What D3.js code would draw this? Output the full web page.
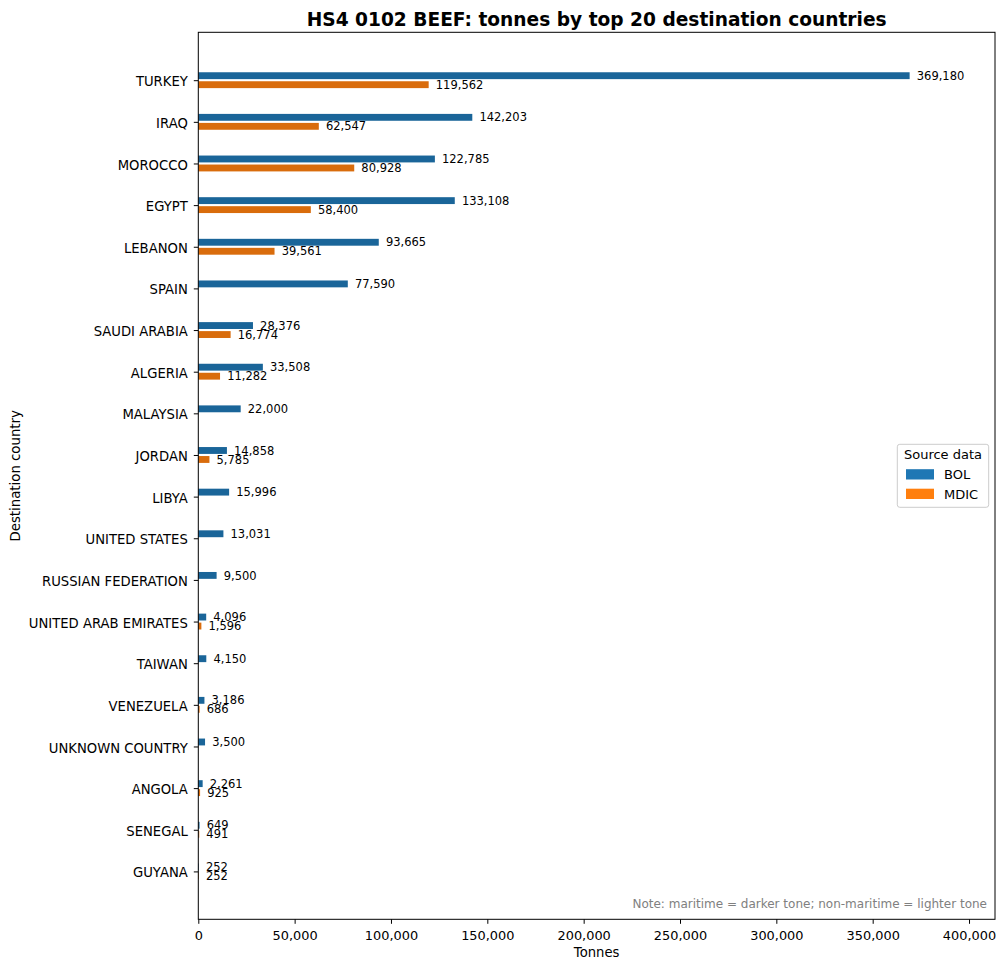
<!DOCTYPE html>
<html>
<head>
<meta charset="utf-8">
<script src="https://cdn.jsdelivr.net/npm/d3@7"></script>
<style>
  html, body { margin: 0; padding: 0; background: #fff; }
  svg { display: block; font-family: "DejaVu Sans", sans-serif; }
</style>
</head>
<body>
<svg id="chart" width="1006" height="969"></svg>
<script>
const countries = ["TURKEY","IRAQ","MOROCCO","EGYPT","LEBANON","SPAIN","SAUDI ARABIA","ALGERIA","MALAYSIA","JORDAN","LIBYA","UNITED STATES","RUSSIAN FEDERATION","UNITED ARAB EMIRATES","TAIWAN","VENEZUELA","UNKNOWN COUNTRY","ANGOLA","SENEGAL","GUYANA"];
const bolValues = [369180,142203,122785,133108,93665,77590,28376,33508,22000,14858,15996,13031,9500,4096,4150,3186,3500,2261,649,252];
const mdicValues = [119562,62547,80928,58400,39561,null,16774,11282,null,5785,null,null,null,1596,null,686,null,925,491,252];
const xTicks = [0,50000,100000,150000,200000,250000,300000,350000,400000];
const seriesNames = ["BOL","MDIC"];
const barColors = ["#1a6599","#d96c0c"];
const legendColors = ["#1f77b4","#ff7f0e"];

const svg = d3.select("#chart");
const plot = {left: 198.3, right: 995, top: 32.3, bottom: 919.3};

const maxVal = d3.max(bolValues.concat(mdicValues.filter(v => v != null)));
const x = d3.scaleLinear().domain([0, maxVal * 1.12]).range([plot.left, plot.right]);
const y = d3.scaleLinear().domain([-1.15, countries.length - 1 + 1.15]).range([plot.top, plot.bottom]);

const barH = 0.165, off = 0.108;
const fmt = d3.format(",");

const series = [bolValues, mdicValues];
series.forEach((vals, s) => {
  const sign = s === 0 ? -1 : 1;
  const data = vals.map((v, i) => ({v, i})).filter(d => d.v != null);
  svg.append("g").selectAll("rect").data(data).join("rect")
    .attr("x", x(0))
    .attr("y", d => y(d.i + sign * off - barH / 2))
    .attr("width", d => x(d.v) - x(0))
    .attr("height", d => y(barH) - y(0))
    .attr("fill", barColors[s]);
  svg.append("g").selectAll("text").data(data).join("text")
    .attr("x", d => x(d.v + maxVal * 0.01))
    .attr("y", d => y(d.i + sign * off))
    .attr("dy", "0.36em")
    .attr("font-size", "11.5px")
    .attr("fill", "#000")
    .text(d => fmt(d.v));
});

// axes
const xAxis = svg.append("g").attr("transform", `translate(0,${plot.bottom})`)
  .call(d3.axisBottom(x).tickValues(xTicks).tickFormat(fmt).tickSize(4.5).tickPadding(7));
xAxis.select(".domain").remove();
xAxis.selectAll("text").attr("font-size", "12.9px").attr("font-family", "DejaVu Sans").attr("fill", "#000");
xAxis.selectAll("line").attr("stroke", "#000").attr("stroke-width", 1);

const yAxis = svg.append("g").attr("transform", `translate(${plot.left},0)`)
  .call(d3.axisLeft(y).tickValues(d3.range(countries.length)).tickFormat(i => countries[i]).tickSize(4.5).tickPadding(6));
yAxis.select(".domain").remove();
yAxis.selectAll("text").attr("font-size", "13.2px").attr("font-family", "DejaVu Sans").attr("fill", "#000").attr("dy", "0.42em");
yAxis.selectAll("line").attr("stroke", "#000").attr("stroke-width", 1);

// frame
svg.append("rect")
  .attr("x", plot.left).attr("y", plot.top)
  .attr("width", plot.right - plot.left).attr("height", plot.bottom - plot.top)
  .attr("fill", "none").attr("stroke", "#000").attr("stroke-width", 1);

// title
svg.append("text")
  .attr("x", (plot.left + plot.right) / 2).attr("y", 25.5)
  .attr("text-anchor", "middle").attr("font-size", "18.6px").attr("font-weight", "bold")
  .text("HS4 0102 BEEF: tonnes by top 20 destination countries");

// axis labels
svg.append("text")
  .attr("x", (plot.left + plot.right) / 2).attr("y", 957)
  .attr("text-anchor", "middle").attr("font-size", "13.2px")
  .text("Tonnes");
svg.append("text")
  .attr("transform", `translate(19.5,${(plot.top + plot.bottom) / 2}) rotate(-90)`)
  .attr("text-anchor", "middle").attr("font-size", "13.3px")
  .text("Destination country");

// note
svg.append("text")
  .attr("x", 987).attr("y", 908)
  .attr("text-anchor", "end").attr("font-size", "12px").attr("fill", "#808080")
  .text("Note: maritime = darker tone; non-maritime = lighter tone");

// legend
const lg = svg.append("g");
lg.append("rect").attr("x", 897.3).attr("y", 444.3).attr("width", 91.4).attr("height", 63)
  .attr("rx", 2.5).attr("fill", "#fff").attr("fill-opacity", 0.8).attr("stroke", "#cccccc").attr("stroke-width", 1);
lg.append("text").attr("x", 943).attr("y", 459.3).attr("text-anchor", "middle").attr("font-size", "13px").text("Source data");
seriesNames.forEach((name, k) => {
  const cy = 474.5 + k * 19.5;
  lg.append("rect").attr("x", 906).attr("y", cy - 5.3).attr("width", 28).attr("height", 10.3).attr("fill", legendColors[k]);
  lg.append("text").attr("x", 944).attr("y", cy).attr("dy", "0.38em").attr("font-size", "13px").text(name);
});
</script>
</body>
</html>
